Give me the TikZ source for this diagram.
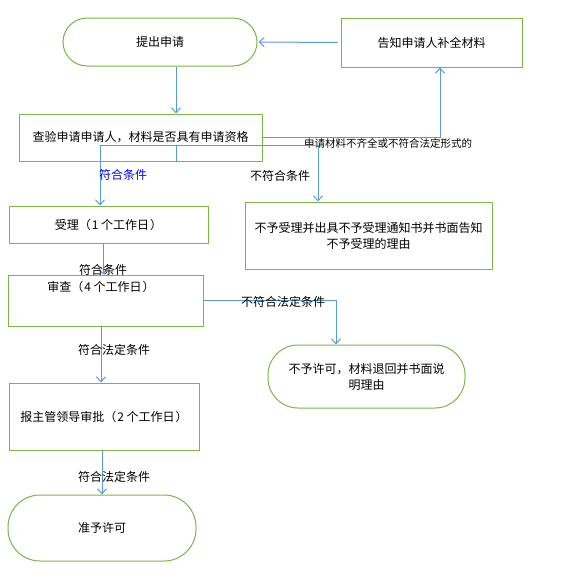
\documentclass[tikz,border=0pt]{standalone}
\usepackage{fontspec}
\setmainfont{Noto Sans CJK SC}
\usetikzlibrary{arrows.meta}
\definecolor{boxgreen}{HTML}{7AB648}
\definecolor{arrblue}{HTML}{5B9BD5}
\tikzset{
  box/.style={draw=boxgreen, line width=1pt, rectangle, align=center, inner sep=0pt, font=\fontsize{12}{16}\selectfont},
  term/.style={draw=boxgreen, line width=1pt, rounded corners=24pt, align=center, inner sep=0pt, font=\fontsize{12}{16}\selectfont},
  arr/.style={draw=arrblue, line width=1pt, -{Straight Barb[length=5pt,width=9pt]}},
  lin/.style={draw=arrblue, line width=1pt},
  lbl/.style={inner sep=0pt, font=\fontsize{12}{14}\selectfont},
}
\newcommand{\lp}{（\hspace{1pt}}
\newcommand{\rp}{\hspace{1pt}）}
\begin{document}
\begin{tikzpicture}[x=1pt,y=-1pt]
\useasboundingbox (0,0) rectangle (577,581);
% nodes
\node[term, minimum width=194pt, minimum height=48pt] (n1) at (160,42) {提出申请};
\node[box, minimum width=181pt, minimum height=49pt] (n2) at (431.5,42.5) {告知申请人补全材料};
\node[box, minimum width=243pt, minimum height=47pt] (n3) at (140.5,137.5) {查验申请申请人，材料是否具有申请资格};
\node[box, minimum width=199pt, minimum height=37pt] (n4) at (108.5,224.5) {受理\lp 1 个工作日\rp};
\node[box, minimum width=247pt, minimum height=67pt, text width=240pt] (n5) at (368.5,235.5) {不予受理并出具不予受理通知书并书面告知\\不予受理的理由};
\node[box, minimum width=195pt, minimum height=51pt] (n6) at (105.5,300.5) {};
\node[lbl] (t6) at (101,287) {审查\lp 4 个工作日\rp};
\node[term, rounded corners=30pt, minimum width=197pt, minimum height=63pt] (n7) at (366.5,376.5) {不予许可，材料退回并书面说\\明理由};
\node[box, minimum width=190pt, minimum height=67pt] (n8) at (104,416.5) {报主管领导审批\lp 2 个工作日\rp};
\node[term, rounded corners=32pt, minimum width=188pt, minimum height=66pt] (n9) at (102,528) {准予许可};
% connectors
\draw[arr] ([xshift=-3pt]n2.west) -- ([xshift=1pt]n1.east);
\draw[arr] ([xshift=16pt]n1.south) -- ([xshift=16pt]n1.south |- n3.north);
\draw[arr] (n3.east) -| ([xshift=8.5pt]n2.south);
\node[lbl, font=\fontsize{10.5}{12}\selectfont] (l1) at (388,143) {申请材料不齐全或不符合法定形式的};
\coordinate (sp) at ([xshift=35.5pt]n3.south);
\coordinate (j) at ([yshift=16pt]sp);
\draw[lin] (sp) -- (j);
\draw[arr] (j) -| ([xshift=-8.5pt]n4.north);
\draw[arr] (j) -| ([xshift=-50.5pt]n5.north);
\node[lbl, text=blue] (l2) at (123,175) {符合条件};
\node[lbl] (l3) at (280,176) {不符合条件};
\draw[arr] ([xshift=-5.5pt]n4.south) -- ([xshift=-5.5pt]n4.south |- n6.north);
\node[lbl] (l4) at (103,270) {符合条件};
\draw[arr] (n6.east) -| ([xshift=-30.5pt]n7.north);
\node[lbl] (l5) at (283,302) {不符合法定条件};
\draw[arr] ([xshift=-4.5pt]n6.south) -- ([xshift=-4.5pt]n6.south |- n8.north);
\node[lbl] (l6) at (114,350) {符合法定条件};
\draw[arr] ([xshift=-2pt]n8.south) -- ([xshift=-2pt]n8.south |- n9.north);
\node[lbl] (l7) at (114,477) {符合法定条件};
\end{tikzpicture}
\end{document}
